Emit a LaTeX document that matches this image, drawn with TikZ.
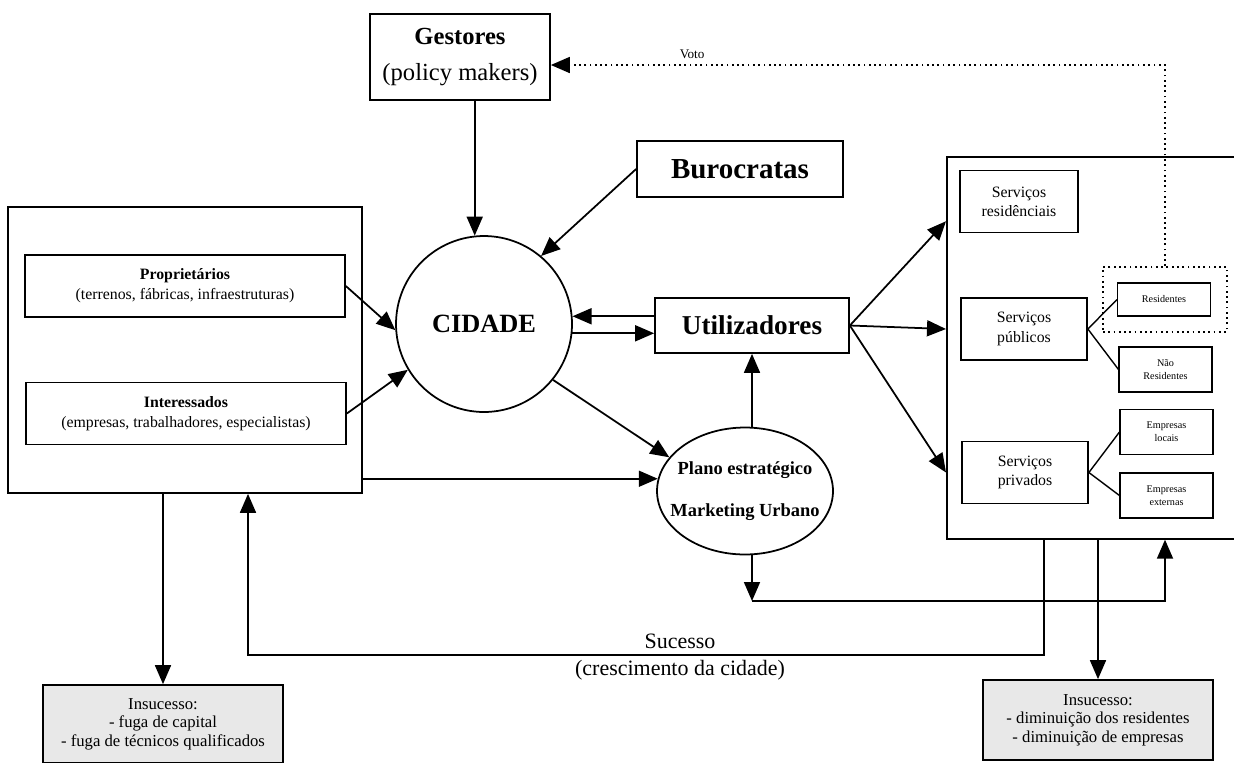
\documentclass[tikz,border=0pt]{standalone}
\usepackage{fontspec}
\setmainfont{Liberation Serif}
\usepackage{tikz}
\usetikzlibrary{positioning,arrows.meta,shapes.geometric,calc}

\begin{document}
\begin{tikzpicture}[
    x=0.02cm, y=-0.02cm,
    >={Triangle[length=3.8mm,width=3.2mm]},
    box/.style={draw, line width=1pt, inner sep=2pt, align=center},
    bigbox/.style={box, font=\fontsize{15.5}{18}\selectfont\bfseries},
    agbox/.style={box, font=\fontsize{9}{11.4}\selectfont, minimum width=6.4cm, minimum height=1.24cm},
    servbox/.style={box, font=\fontsize{9}{11}\selectfont, minimum width=2.52cm, minimum height=1.24cm},
    subbox/.style={draw, line width=0.6pt, align=center, font=\fontsize{5.8}{7.4}\selectfont, minimum width=1.86cm, minimum height=0.9cm},
    failbox/.style={box, fill=black!9, font=\fontsize{9.5}{10.6}\selectfont},
    link/.style={->, line width=1pt}
  ]
    \useasboundingbox (0,0) rectangle (1234,762);
    \clip (0,0) rectangle (1234,762);
    % Decisores
    \node[box, font=\fontsize{14}{21}\selectfont, minimum width=3.6cm, minimum height=1.72cm] (gest) at (460,57) {\textbf{Gestores}\\(policy makers)};
    \node[bigbox, font=\fontsize{16.5}{18}\selectfont\bfseries, minimum width=4.12cm, minimum height=1.12cm] (buro) at (740,169) {Burocratas};
    % Cidade e utilizadores
    \node[circle, draw, line width=1pt, minimum size=3.52cm, font=\fontsize{15}{18}\selectfont\bfseries] (cidade) at (484,324) {CIDADE};
    \node[bigbox, minimum width=3.88cm, minimum height=1.1cm] (util) at (752,325.5) {Utilizadores};
    \node[ellipse, draw, line width=1pt, minimum width=3.52cm, minimum height=2.54cm, inner xsep=-7.5pt, inner ysep=0pt, align=center, font=\fontsize{10.5}{24}\selectfont\bfseries] (plano) at (745,491) {Plano estratégico\\Marketing Urbano};
    % Agentes
    \node[box, minimum width=7.08cm, minimum height=5.72cm] (agentes) at (185,350) {};
    \node[agbox] (prop) at (185,286) {\textbf{Proprietários}\\(terrenos, fábricas, infraestruturas)};
    \node[agbox] (inter) at (186,413.5) {\textbf{Interessados}\\(empresas, trabalhadores, especialistas)};
    % Servicos
    \node[box, anchor=north west, minimum width=6.2cm, minimum height=7.64cm] (serv) at (946,156) {};
    \node[servbox, minimum width=2.36cm] (sres) at (1019,201.5) {Serviços\\residênciais};
    \node[servbox] (spub) at (1024,329) {Serviços\\públicos};
    \node[servbox] (spriv) at (1025,472.5) {Serviços\\privados};
    \node[subbox, minimum height=0.66cm] (resid) at (1164,299.5) {Residentes};
    \node[draw, dotted, line width=1pt, minimum width=2.48cm, minimum height=1.3cm] (votantes) at (1165,299.5) {};
    \node[subbox] (nresid) at (1165.5,369.5) {Não\\Residentes};
    \node[subbox] (elocal) at (1166.5,432) {Empresas\\locais};
    \node[subbox] (eext) at (1166.5,495.5) {Empresas\\externas};
    % Resultados
    \node[failbox, minimum width=4.8cm, minimum height=1.56cm] (insl) at (163,724) {Insucesso:\\- fuga de capital\\- fuga de técnicos qualificados};
    \node[failbox, minimum width=4.6cm, minimum height=1.6cm] (insr) at (1098,720) {Insucesso:\\- diminuição dos residentes\\- diminuição de empresas};
    \node[font=\fontsize{12.5}{14}\selectfont] (suc) at (680,641) {Sucesso};
    \node[font=\fontsize{12.5}{14}\selectfont] (cresc) at (680,670) {(crescimento da cidade)};
    \coordinate (ret) at (752,601);
    \coordinate (suc1) at (1044,655);
    \coordinate (suc2) at (248,655);
    \coordinate (entrada) at ($(serv.north west)!0.17!(serv.south west)$);
    \coordinate (voto) at ($(gest.east)+(0,8)$);
    % Ligacoes
    \draw[link] (gest.south -| cidade.96) -- (cidade.96);
    \draw[link] (buro.west) -- (cidade.50);
    \draw[link] (prop.east) -- (cidade.184);
    \draw[link] (inter.east) -- (cidade.211);
    \draw[link] (util.west |- cidade.5) -- (cidade.5);
    \draw[link] (cidade.-6) -- (cidade.-6 -| util.west);
    \draw[link] (cidade.-39) -- (plano.156);
    \draw[link] (agentes.east |- plano.172) -- (plano.172);
    \draw[link] (util.south |- plano.north) -- (util.south);
    \draw[link] (util.east) -- (entrada);
    \draw[link] (util.east) -- (serv.west |- spub);
    \draw[link] (util.east) -- (serv.west |- spriv);
    \draw[line width=0.8pt] (spub.east) -- (resid.west);
    \draw[line width=0.8pt] (spub.east) -- (nresid.west);
    \draw[line width=0.8pt] (spriv.east) -- (elocal.west);
    \draw[line width=0.8pt] (spriv.east) -- (eext.west);
    \draw[link, dotted] (votantes.north) |- (voto) node[pos=0.885, above, font=\fontsize{7.5}{9}\selectfont] {Voto};
    \draw[link] (util.south |- plano.south) -- (ret);
    \draw[link] (ret) -| (serv.south -| votantes.north);
    \draw[link] (serv.south -| suc1) -- (suc1) -- (suc2) -- (agentes.south -| suc2);
    \draw[link] (insl.north |- agentes.south) -- (insl.north);
    \draw[link] (serv.south -| insr.north) -- (insr.north);
  \end{tikzpicture}
\end{document}
